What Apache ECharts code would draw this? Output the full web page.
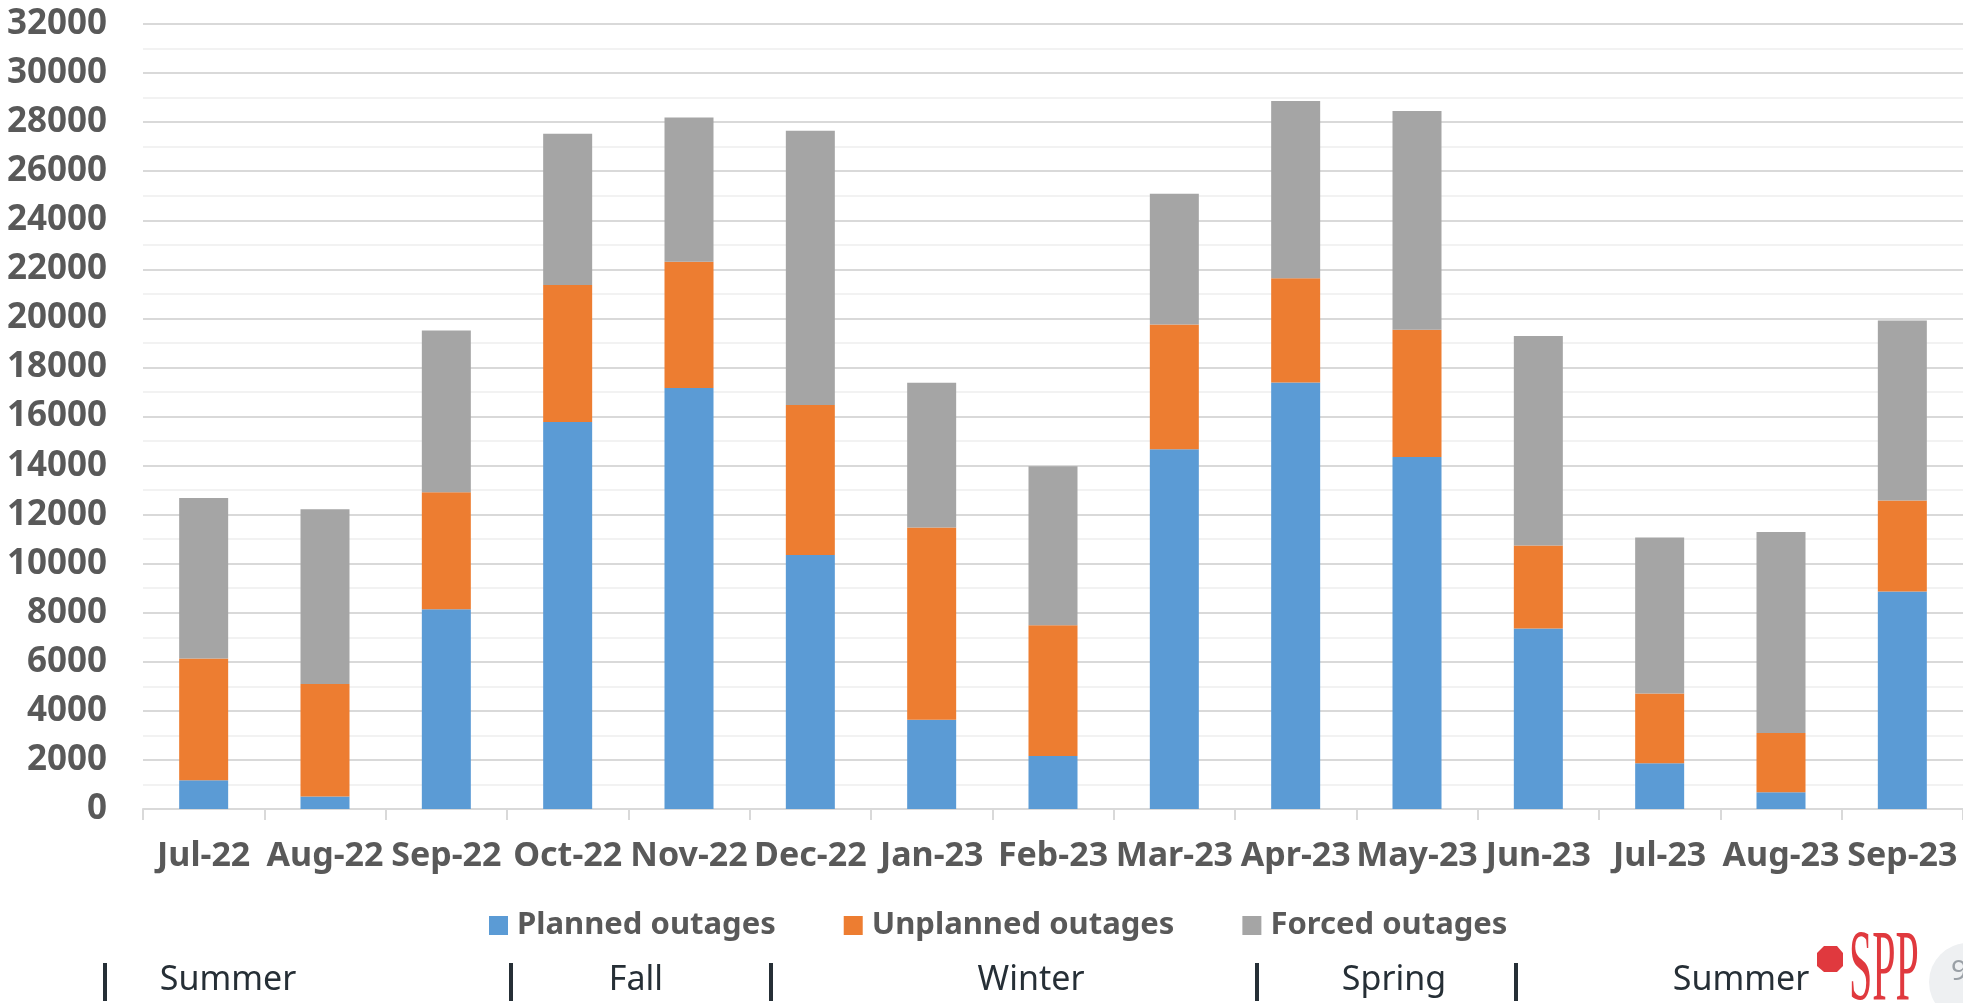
<!DOCTYPE html>
<html>
<head>
<meta charset="utf-8">
<script src="https://cdn.jsdelivr.net/npm/echarts@6/dist/echarts.min.js"></script>
<style>
    html, body {margin: 0; padding: 0; background: #fff;}
    #chart {width: 1963px; height: 1003px;}
</style>
</head>
<body>
<div id="chart"></div>
<script>
// 月份
const months = ['Jul-22', 'Aug-22', 'Sep-22', 'Oct-22', 'Nov-22', 'Dec-22', 'Jan-23', 'Feb-23',
    'Mar-23', 'Apr-23', 'May-23', 'Jun-23', 'Jul-23', 'Aug-23', 'Sep-23'];
// 各类停运 (MW)
const planned = [1170, 510, 8140, 15780, 17160, 10350, 3640, 2160, 14660, 17390, 14350, 7360, 1870, 680, 8870];
const unplanned = [4960, 4590, 4770, 5580, 5150, 6120, 7840, 5330, 5090, 4250, 5190, 3380, 2840, 2420, 3710];
const forced = [6550, 7120, 6600, 6170, 5880, 11180, 5900, 6480, 5330, 7220, 8910, 8540, 6360, 8190, 7330];
const seriesNames = ['Planned outages', 'Unplanned outages', 'Forced outages'];
const seasons = ['Summer', 'Fall', 'Winter', 'Spring', 'Summer'];

const colors = ['#5b9bd5', '#ed7d31', '#a5a5a5'];
const labelColor = '#595959';
const font = 'Noto Sans';

const chartDom = document.getElementById('chart');
const myChart = echarts.init(chartDom);

// 季节标签的位置 (x中心) 和分隔线
const seasonX = [228, 636, 1031, 1394, 1741];
const dividerX = [105, 511, 771, 1257, 1516];

const graphics = [];
seasons.forEach((s, i) => {
    graphics.push({
        type: 'text',
        x: seasonX[i],
        y: 980,
        style: {
            text: s,
            fill: '#262f36',
            font: '34px "Noto Sans"',
            align: 'center',
            verticalAlign: 'middle'
        }
    });
});
dividerX.forEach(x => {
    graphics.push({
        type: 'rect',
        shape: {x: x - 2, y: 963, width: 4, height: 38},
        style: {fill: '#262f36'}
    });
});
// SPP 标志
graphics.push({
    type: 'polygon',
    shape: {
        points: [[1824, 946], [1837, 946], [1843, 953], [1843, 966], [1837, 972], [1824, 972], [1817, 966], [1817, 953]]
    },
    style: {fill: '#e0393e'}
});
graphics.push({
    type: 'text',
    x: 1849,
    y: 1024,
    scaleX: 0.41,
    style: {
        text: 'SPP',
        fill: '#e0393e',
        font: '102px "Liberation Serif"',
        align: 'left',
        verticalAlign: 'bottom'
    }
});
// 页码圆圈
graphics.push({
    type: 'circle',
    shape: {cx: 1968, cy: 982, r: 39},
    style: {fill: '#eef0f2'}
});
graphics.push({
    type: 'text',
    x: 1951,
    y: 972,
    style: {
        text: '9',
        fill: '#9aa0a6',
        font: '28px "Noto Sans"',
        align: 'left',
        verticalAlign: 'middle'
    }
});

const option = {
    animation: false,
    color: colors,
    grid: {
        left: 143,
        right: -5,
        top: 24,
        bottom: 194,
        containLabel: false
    },
    legend: {
        data: seriesNames,
        left: 484,
        top: 905,
        icon: 'rect',
        itemWidth: 19,
        itemHeight: 19,
        itemGap: 68,
        textStyle: {
            color: labelColor,
            fontFamily: font,
            fontWeight: 'bold',
            fontSize: 31,
            padding: [0, 0, 0, 4]
        }
    },
    xAxis: {
        type: 'category',
        data: months,
        axisLine: {lineStyle: {color: '#d9d9d9', width: 2}},
        axisTick: {show: true, length: 11, lineStyle: {color: '#d9d9d9', width: 2}},
        axisLabel: {
            color: labelColor,
            fontFamily: font,
            fontWeight: 'bold',
            fontSize: 34,
            margin: 30,
            interval: 0
        }
    },
    yAxis: {
        type: 'value',
        min: 0,
        max: 32000,
        interval: 2000,
        axisLine: {show: false},
        axisTick: {show: false},
        axisLabel: {
            color: labelColor,
            fontFamily: font,
            fontWeight: 'bold',
            fontSize: 35,
            margin: 36,
            formatter: v => String(v)
        },
        splitLine: {lineStyle: {color: '#d9d9d9', width: 2}},
        minorTick: {show: false, splitNumber: 2},
        minorSplitLine: {show: true, lineStyle: {color: '#f2f2f2', width: 2}}
    },
    series: [planned, unplanned, forced].map((d, i) => ({
        name: seriesNames[i],
        type: 'bar',
        stack: 'Total',
        barWidth: 49,
        data: d
    })),
    graphic: graphics
};

option && myChart.setOption(option);
</script>
</body>
</html>
